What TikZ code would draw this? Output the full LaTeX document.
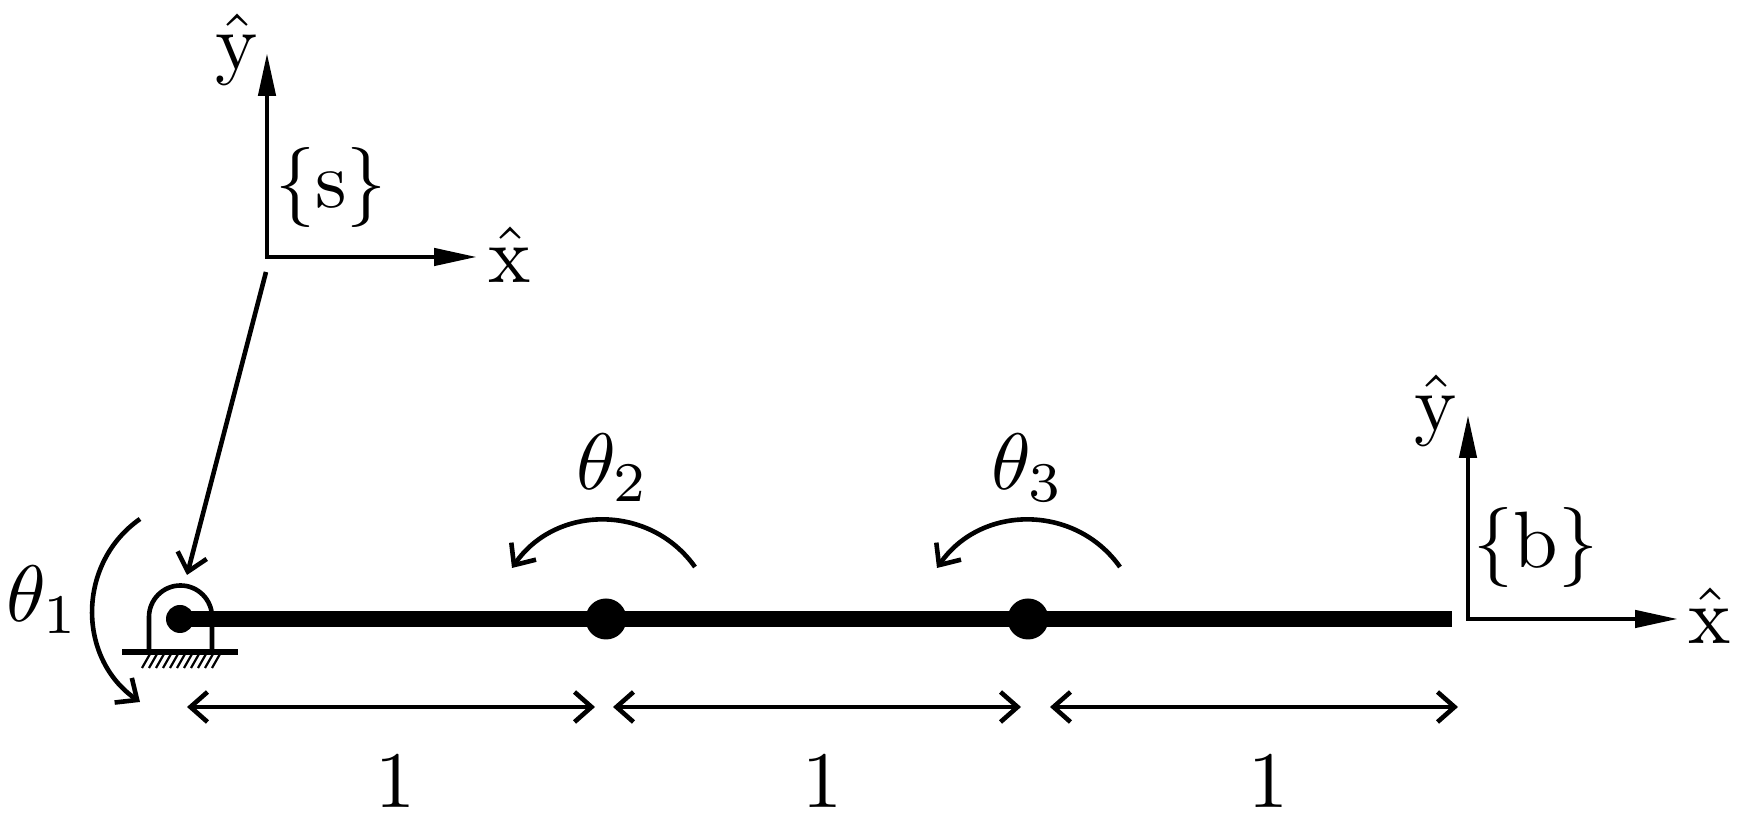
\documentclass[tikz,border=0pt]{standalone}
\usepackage{amssymb}
\usepackage{mathtools}
\usetikzlibrary{arrows.meta}
\tikzset{>={Straight Barb[length=8.5pt,width=15pt]}}
\tikzset{
  thin line/.style={line width=2.3pt},
  frame axis/.style={line width=2.3pt,{Triangle[length=21.5pt,width=8.5pt]}-{Triangle[length=21.5pt,width=8.5pt]}},
  joint dot/.style={circle,fill=black,inner sep=0pt,minimum size=20.5pt},
  lbl/.style={inner sep=0pt,anchor=base}
}
\newcommand{\LBL}[1]{\scalebox{4}{$#1$}}

\begin{document}
\begin{tikzpicture}[x=0.5pt,y=0.5pt]

  \useasboundingbox (0,0) rectangle (1742,822);

  \newcommand\Link{203}
  \newcommand\Dim{115}

  %% link and joints
  \coordinate (linkend) at (1452,\Link);
  \node[joint dot,minimum size=14pt] (j1) at (180,\Link) {};
  \node[joint dot] (j2) at (606,\Link) {};
  \node[joint dot] (j3) at (1028,\Link) {};
  \draw[line width=7.8pt] (j1.center) -- (j2.center) -- (j3.center) -- (linkend);

  %% base
  \draw[thin line] (149,170) -- (149,205) arc (180:0:31.5) -- (212,170);
  \draw[line width=2.8pt] (122,170) -- (238,170);
  \foreach \i in {0,...,10}
    \draw[line width=1.1pt] (150+7*\i,168) -- (142+7*\i,154);

  %% {s} frame
  \coordinate (so) at (267,565);
  \coordinate (sx) at (477,565);
  \coordinate (sy) at (267,769);
  \coordinate (sstart) at (266,550);
  \coordinate (stip) at (187,247);
  \draw[frame axis] (sy) -- (so) -- (sx);
  \draw[->,thin line] (sstart) -- (stip);
  \node[lbl] (syl) at (237,752) {\LBL{\hat{\mathrm{y}}}};
  \node[lbl] (sxl) at (510,539) {\LBL{\hat{\mathrm{x}}}};
  \node[lbl] (sl) at (331,614) {\LBL{\{\mathrm{s}\}}};

  %% {b} frame
  \coordinate (bo) at (1468,203);
  \coordinate (bx) at (1678,203);
  \coordinate (by) at (1468,407);
  \draw[frame axis] (by) -- (bo) -- (bx);
  \node[lbl] (byl) at (1436,391) {\LBL{\hat{\mathrm{y}}}};
  \node[lbl] (bxl) at (1710,178) {\LBL{\hat{\mathrm{x}}}};
  \node[lbl] (bl) at (1536,254) {\LBL{\{\mathrm{b}\}}};

  %% joint angles
  \coordinate (t1a) at (140,303);
  \coordinate (t1b) at (140,120);
  \coordinate (t2a) at (695,255);
  \coordinate (t2b) at (512,254);
  \coordinate (t3a) at (1120,255);
  \coordinate (t3b) at (937,254);
  \draw[->,thin line] (t1a) to[bend right=55,looseness=1.08] (t1b);
  \draw[->,thin line] (t2a) to[bend right=55,looseness=1.08] (t2b);
  \draw[->,thin line] (t3a) to[bend right=55,looseness=1.08] (t3b);
  \node[lbl,anchor=base west] (t1l) at (6,200) {\LBL{\theta_1}};
  \node[lbl] (t2l) at (613,332) {\LBL{\theta_2}};
  \node[lbl] (t3l) at (1028,332) {\LBL{\theta_3}};

  %% lengths
  \coordinate (d1a) at (187,\Dim);
  \coordinate (d1b) at (595,\Dim);
  \coordinate (d2a) at (613,\Dim);
  \coordinate (d2b) at (1021,\Dim);
  \coordinate (d3a) at (1050,\Dim);
  \coordinate (d3b) at (1458,\Dim);
  \draw[<->,thin line] (d1a) -- (d1b);
  \draw[<->,thin line] (d2a) -- (d2b);
  \draw[<->,thin line] (d3a) -- (d3b);
  \node[lbl] (l1) at (395,14) {\LBL{1}};
  \node[lbl] (l2) at (822,14) {\LBL{1}};
  \node[lbl] (l3) at (1268,14) {\LBL{1}};

\end{tikzpicture}
\end{document}
